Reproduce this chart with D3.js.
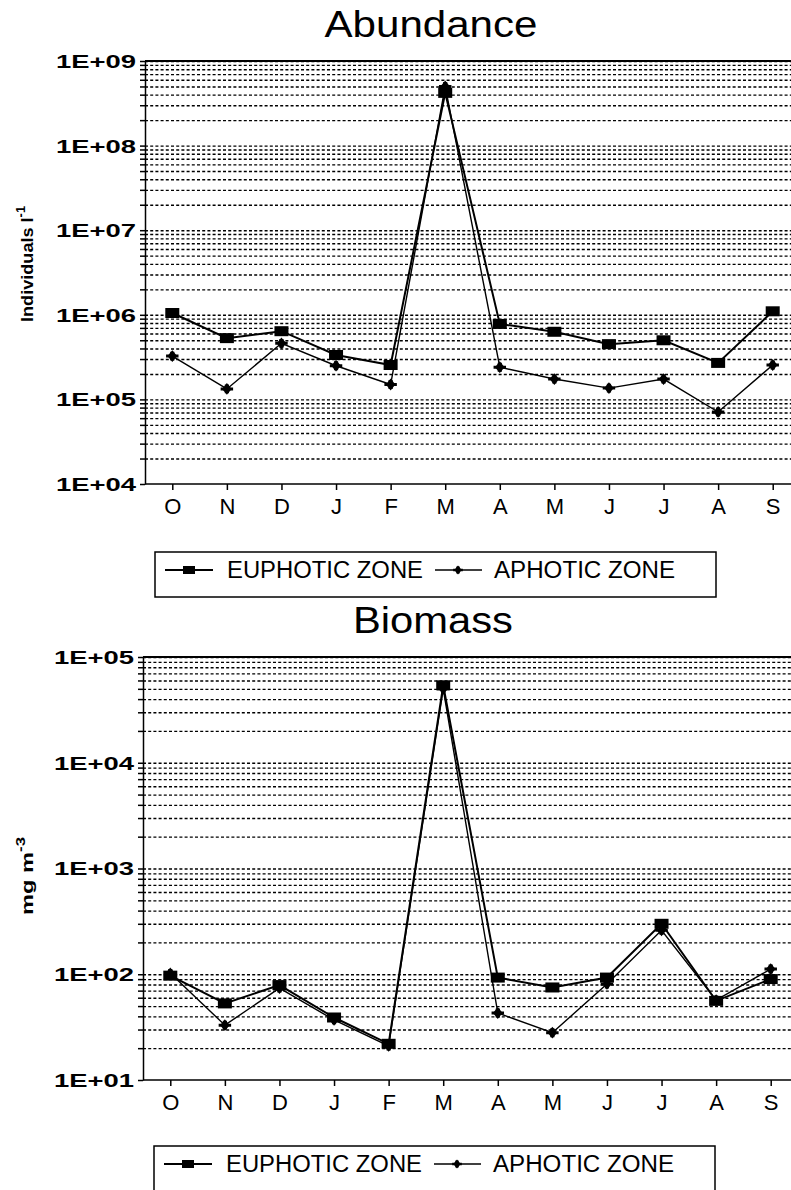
<!DOCTYPE html>
<html>
<head>
<meta charset="utf-8">
<style>
  body { margin: 0; background: #fff; }
  svg { display: block; font-family: "Liberation Sans", Arial, sans-serif; }
  .grid line { stroke: #000; stroke-width: 1.4; stroke-dasharray: 3,2.2; }
  .grid .domain { display: none; }
  .axis path, .axis line { stroke: #000; stroke-width: 1.5; }
  .axis text { fill: #000; }
</style>
</head>
<body>
<div id="chart"></div>
<script src="https://d3js.org/d3.v7.min.js"></script>
<script>
// month initials, Oct -> Sep
const months = ["O", "N", "D", "J", "F", "M", "A", "M", "J", "J", "A", "S"];

// abundance, individuals per litre
const abundanceEuphotic = [1.05e6, 5.3e5, 6.4e5, 3.35e5, 2.55e5, 4.2e8, 7.8e5, 6.3e5, 4.5e5, 5.0e5, 2.7e5, 1.1e6];
const abundanceAphotic  = [3.25e5, 1.33e5, 4.6e5, 2.5e5, 1.5e5, 5.0e8, 2.4e5, 1.74e5, 1.36e5, 1.74e5, 7.1e4, 2.55e5];

// biomass, mg m-3
const biomassEuphotic = [97, 53, 79, 39, 22, 54000, 93, 75, 93, 300, 56, 90];
const biomassAphotic  = [102, 33, 74, 37, 21, 50000, 43, 28, 81, 260, 57, 112];

const abundanceDecades = [1e4, 1e5, 1e6, 1e7, 1e8, 1e9];
const biomassDecades = [1e1, 1e2, 1e3, 1e4, 1e5];

const legendNames = ["EUPHOTIC ZONE", "APHOTIC ZONE"];

const W = 791, H = 1190;
const svg = d3.select("#chart").append("svg")
    .attr("width", W)
    .attr("height", H);

function expLabel(v) {
  var e = Math.round(Math.log10(v));
  return "1E+" + (e < 10 ? "0" : "") + e;
}

// aphotic marker: a small fat cross with a diamond core
function star(sel, k) {
  sel.append("path").attr("d", d3.symbol().type(d3.symbolCross).size(44 * k))
      .attr("transform", "scale(1.4,1)");
  sel.append("path").attr("d", d3.symbol().type(d3.symbolDiamond).size(40 * k))
      .attr("transform", "scale(1.4,1)");
}

function drawPanel(cfg) {
  var x = d3.scalePoint()
      .domain(d3.range(months.length))
      .range([cfg.left, cfg.left + 655])
      .padding(0.5);

  var y = d3.scaleLog()
      .domain([cfg.decades[0], cfg.decades[cfg.decades.length - 1]])
      .range([cfg.bottom, cfg.top]);

  // every 1..9 x 10^k value inside the range
  var minors = [];
  cfg.decades.slice(0, -1).forEach(function(d) {
    for (var k = 1; k <= 9; k++) minors.push(d * k);
  });
  minors.push(cfg.decades[cfg.decades.length - 1]);

  // title
  svg.append("text")
      .attr("x", cfg.titleX)
      .attr("y", cfg.titleY)
      .attr("text-anchor", "middle")
      .attr("font-size", 37)
      .attr("textLength", cfg.titleLen)
      .attr("lengthAdjust", "spacingAndGlyphs")
      .text(cfg.title);

  // dotted grid
  svg.append("g")
      .attr("class", "grid")
      .attr("transform", "translate(" + cfg.left + ",0)")
      .call(d3.axisRight(y).tickValues(minors.filter(function(d) { return d > cfg.decades[0]; }))
        .tickSize(W - cfg.left).tickFormat(""));

  // y axis
  var yAxis = svg.append("g")
      .attr("class", "axis")
      .attr("transform", "translate(" + cfg.left + ",0)")
      .call(d3.axisLeft(y).tickValues(minors).tickSize(5).tickPadding(4).tickSizeOuter(0)
        .tickFormat(function(d) { return cfg.decades.indexOf(d) >= 0 ? expLabel(d) : ""; }));
  yAxis.selectAll(".tick text")
      .attr("font-size", 18)
      .attr("font-weight", "bold")
      .attr("dy", "0.36em")
      .filter(function(d) { return cfg.decades.indexOf(d) >= 0; })
      .attr("textLength", 80)
      .attr("lengthAdjust", "spacingAndGlyphs");

  // x axis
  var xAxis = svg.append("g")
      .attr("class", "axis")
      .attr("transform", "translate(0," + cfg.bottom + ")")
      .call(d3.axisBottom(x).tickSize(6).tickPadding(8).tickSizeOuter(0)
        .tickFormat(function(i) { return months[i]; }));
  xAxis.select(".domain").attr("d", "M" + cfg.left + ",0H" + W);
  xAxis.selectAll(".tick text").attr("font-size", 22);

  // top frame line
  svg.append("line")
      .attr("x1", cfg.left).attr("x2", W)
      .attr("y1", cfg.top).attr("y2", cfg.top)
      .attr("stroke", "#000").attr("stroke-width", 2);

  // y title
  var yt = svg.append("text")
      .attr("transform", "translate(" + cfg.ytX + "," + cfg.ytY + ") rotate(-90)")
      .attr("text-anchor", "middle")
      .attr("font-size", 17)
      .attr("font-weight", "bold")
      .attr("textLength", cfg.ytLen)
      .attr("lengthAdjust", "spacingAndGlyphs");
  yt.append("tspan").text(cfg.ytText);
  yt.append("tspan").attr("dy", -8).attr("font-size", 12).text(cfg.ytSup);

  var line = d3.line()
      .x(function(d, i) { return x(i); })
      .y(function(d) { return y(d); });

  svg.append("path")
      .datum(cfg.aphotic)
      .attr("fill", "none")
      .attr("stroke", "#000")
      .attr("stroke-width", 1.4)
      .attr("d", line);

  svg.append("path")
      .datum(cfg.euphotic)
      .attr("fill", "none")
      .attr("stroke", "#000")
      .attr("stroke-width", 2)
      .attr("d", line);

  svg.selectAll(null)
      .data(cfg.aphotic)
    .enter().append("g")
      .attr("transform", function(d, i) { return "translate(" + x(i) + "," + y(d) + ")"; })
      .each(function() { star(d3.select(this), 1); });

  svg.selectAll(null)
      .data(cfg.euphotic)
    .enter().append("rect")
      .attr("x", function(d, i) { return x(i) - 7; })
      .attr("y", function(d) { return y(d) - 5; })
      .attr("width", 14)
      .attr("height", 10);

  // legend box
  var lg = svg.append("g").attr("transform", "translate(" + cfg.legX + "," + cfg.legY + ")");
  lg.append("rect")
      .attr("width", 561)
      .attr("height", 45)
      .attr("fill", "none")
      .attr("stroke", "#000")
      .attr("stroke-width", 1.5);

  lg.append("line").attr("x1", 10).attr("x2", 58).attr("y1", 18).attr("y2", 18)
      .attr("stroke", "#000").attr("stroke-width", 2);
  lg.append("rect").attr("x", 28).attr("y", 14).attr("width", 12).attr("height", 8);
  lg.append("text").attr("x", 72).attr("y", 26).attr("font-size", 23)
      .attr("textLength", 196).attr("lengthAdjust", "spacingAndGlyphs").text(legendNames[0]);

  lg.append("line").attr("x1", 280).attr("x2", 327).attr("y1", 18).attr("y2", 18)
      .attr("stroke", "#000").attr("stroke-width", 1.4);
  star(lg.append("g").attr("transform", "translate(303,18)"), 0.6);
  lg.append("text").attr("x", 339).attr("y", 26).attr("font-size", 23)
      .attr("textLength", 181).attr("lengthAdjust", "spacingAndGlyphs").text(legendNames[1]);
}

drawPanel({
  title: "Abundance", titleX: 431, titleY: 37, titleLen: 213,
  left: 145, top: 61, bottom: 484,
  decades: abundanceDecades,
  euphotic: abundanceEuphotic, aphotic: abundanceAphotic,
  ytText: "Individuals l", ytSup: "-1", ytX: 33, ytY: 264, ytLen: 116,
  legX: 155, legY: 552
});

drawPanel({
  title: "Biomass", titleX: 433, titleY: 633, titleLen: 160,
  left: 143, top: 657, bottom: 1080,
  decades: biomassDecades,
  euphotic: biomassEuphotic, aphotic: biomassAphotic,
  ytText: "mg m", ytSup: "-3", ytX: 33, ytY: 876, ytLen: 78,
  legX: 154, legY: 1146
});
</script>
</body>
</html>
